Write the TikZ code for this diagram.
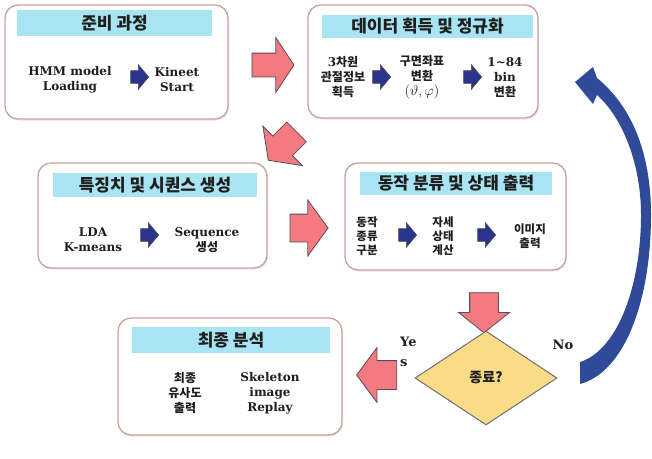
\documentclass[tikz,border=0pt]{standalone}
\usepackage{fontspec}
\setmainfont{DejaVu Serif}
\newfontfamily\kr{Noto Sans CJK KR}
\usetikzlibrary{shapes.arrows,shapes.geometric,shadows}
\definecolor{boxline}{RGB}{200,162,150}
\definecolor{bandcyan}{RGB}{168,228,242}
\definecolor{pinkf}{RGB}{244,122,128}
\definecolor{pinkline}{RGB}{85,75,90}
\definecolor{navy}{RGB}{42,52,140}
\definecolor{curveblue}{RGB}{46,74,152}
\definecolor{diafill}{RGB}{250,220,135}
\definecolor{dialine}{RGB}{110,110,120}
\definecolor{textc}{RGB}{30,30,30}
\newcommand\ko[1]{{\kr\bfseries #1}}
\tikzset{
  box/.style={draw=boxline, line width=1.3pt, rounded corners=13pt, fill=white,
    drop shadow={opacity=0.18, shadow xshift=1.2pt, shadow yshift=-1.5pt}},
  band/.style={fill=bandcyan, inner sep=0pt, text=textc,
    font=\fontsize{17}{20}\selectfont\kr\bfseries},
  body/.style={align=center, inner sep=0pt, text=textc,
    font=\fontsize{12}{15}\selectfont\bfseries},
  blk/.style={single arrow, draw=black!70, fill=navy, line width=0.6pt,
    single arrow head extend=6pt, minimum height=18pt, inner xsep=0pt, inner ysep=6pt,
    single arrow tip angle=100, single arrow head indent=0pt},
  pinkarr/.style={single arrow, draw=pinkline, fill=pinkf, line width=0.8pt,
    inner xsep=0pt, single arrow head indent=0pt},
  lab/.style={inner sep=0pt, text=textc, font=\fontsize{13}{20}\selectfont\bfseries}
}
\begin{document}
\begin{tikzpicture}[x=1pt,y=-1pt]
\useasboundingbox (0,0) rectangle (652,458);

% boxes
\node[box, minimum width=223pt, minimum height=114pt] (b1) at (116.5,62) {};
\node[box, minimum width=230pt, minimum height=113pt] (b2) at (423,61.5) {};
\node[box, minimum width=229pt, minimum height=105pt] (b3) at (152.5,215.5) {};
\node[box, minimum width=221pt, minimum height=107pt] (b4) at (455.5,216.5) {};
\node[box, minimum width=224pt, minimum height=117pt] (b5) at (230,376.5) {};

% title bands
\node[band, minimum width=195pt, minimum height=26pt] (t1) at (114.5,23) {준비 과정};
\node[band, minimum width=211pt, minimum height=23pt] (t2) at (427.5,26) {데이터 획득 및 정규화};
\node[band, minimum width=204pt, minimum height=24pt] (t3) at (155,185) {특징치 및 시퀀스 생성};
\node[band, minimum width=192pt, minimum height=23pt] (t4) at (456,183.5) {동작 분류 및 상태 출력};
\node[band, minimum width=198pt, minimum height=26pt] (t5) at (231,340) {최종 분석};

% box 1
\node[body] (a1) at (70,80) {HMM model\\Loading};
\node[blk] (ar1) at (137,77) {};
\node[body] (a2) at (177,80) {Kineet\\Start};

% box 2
\node[body] (c1) at (343,77) {3\ko{차원}\\\ko{관절정보}\\\ko{획득}};
\node[blk] (ar2) at (379,77) {};
\node[body] (c2) at (422,77) {\ko{구면좌표}\\\ko{변환}\\{\fontsize{14}{15}\selectfont$(\vartheta,\varphi)$}};
\node[blk] (ar3) at (470,77) {};
\node[body] (c3) at (505,78) {1\textasciitilde 84\\bin\\\ko{변환}};

% box 3
\node[body] (e1) at (93,240) {LDA\\K-means};
\node[blk] (ar4) at (147,235) {};
\node[body] (e2) at (207,240) {Sequence\\\ko{생성}};

% box 4
\node[body, font=\fontsize{11.5}{14}\selectfont\bfseries] (f1) at (367,236) {\ko{동작}\\\ko{종류}\\\ko{구분}};
\node[blk] (ar5) at (405,235) {};
\node[body, font=\fontsize{11.5}{14}\selectfont\bfseries] (f2) at (443,236) {\ko{자세}\\\ko{상태}\\\ko{계산}};
\node[blk] (ar6) at (484,235) {};
\node[body, font=\fontsize{11.5}{14}\selectfont\bfseries] (f3) at (530,236) {\ko{이미지}\\\ko{출력}};

% box 5
\node[body] (g1) at (185,393) {\ko{최종}\\\ko{유사도}\\\ko{출력}};
\node[body] (g2) at (270,393) {Skeleton\\image\\Replay};

% pink block arrows
\node[pinkarr, minimum height=42pt, inner ysep=11.5pt, single arrow head extend=15.5pt, single arrow tip angle=113] (p1) at (269,65) {};
\node[pinkarr, rotate=-135, minimum height=40pt, inner ysep=13.5pt, single arrow head extend=14pt, single arrow tip angle=108] (p2) at (286,142.5) {};
\node[pinkarr, minimum height=38pt, inner ysep=13.5pt, single arrow head extend=14pt, single arrow tip angle=108] (p3) at (304,228) {};
\node[pinkarr, rotate=-90, minimum height=40pt, inner ysep=14pt, single arrow head extend=11pt, single arrow tip angle=103] (p4) at (484,307) {};
\node[pinkarr, rotate=180, minimum height=40pt, inner ysep=14pt, single arrow head extend=13pt, single arrow tip angle=107] (p5) at (382,375) {};

% decision
\node[diamond, draw=dialine, fill=diafill, line width=1pt, minimum width=142pt, minimum height=94pt, inner sep=0pt, text=textc, font=\fontsize{14}{16}\selectfont\kr\bfseries] (d) at (486,378) {종료?};

% labels
\node[lab, anchor=north west, align=left] (yes) at (400,337) {Ye\\s};
\node[lab] (no) at (563,345) {No};

% blue curved return arrow
\fill[curveblue] (580,362) .. controls (618,350) and (641,285) .. (641,215)
  .. controls (641,160) and (620,115) .. (597,95)
  -- (593,104) -- (575,82) -- (593,67) -- (597,78)
  .. controls (630,105) and (651,150) .. (651,215)
  .. controls (651,300) and (625,372) .. (580,384) -- cycle;
\end{tikzpicture}
\end{document}
